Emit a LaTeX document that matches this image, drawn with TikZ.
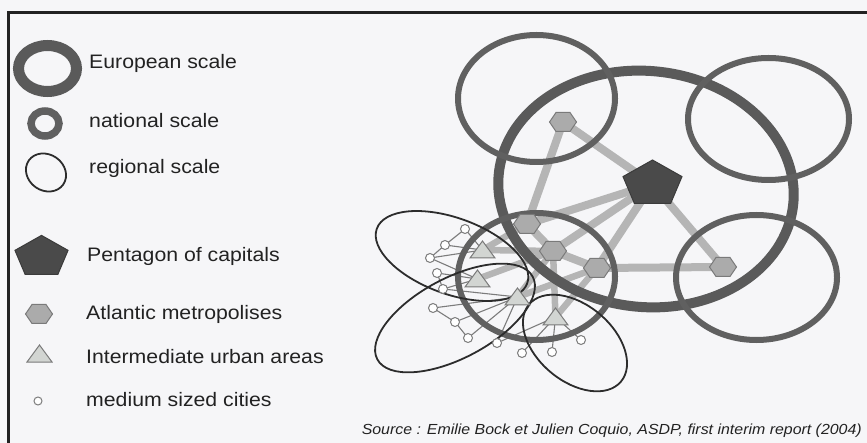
\documentclass[tikz,border=0pt]{standalone}
\usepackage{fontspec}
\setmainfont{Liberation Sans}[FakeStretch=1.09]
\pgfdeclarelayer{paperlayer}
\pgfdeclarelayer{links}
\pgfdeclarelayer{rings}
\pgfsetlayers{paperlayer,links,rings,main}

\definecolor{paper}{HTML}{F6F6F8}
\definecolor{inkc}{HTML}{222222}
\definecolor{ringeu}{HTML}{5A5A5A}
\definecolor{ringnat}{HTML}{606060}
\definecolor{ringreg}{HTML}{2C2C2C}
\definecolor{bandc}{HTML}{B5B5B5}
\definecolor{hexfill}{HTML}{ABABAB}
\definecolor{hexline}{HTML}{7A7A7A}
\definecolor{pentfill}{HTML}{4A4A4A}
\definecolor{trifill}{HTML}{D2D5D2}
\definecolor{spokec}{HTML}{7C7C7C}

\tikzset{
  europe/.style={draw=ringeu, line width=10pt},
  nation/.style={draw=ringnat, line width=6pt},
  region/.style={draw=ringreg, line width=1.8pt},
  bandlink/.style={draw=bandc, line width=8pt},
  thinband/.style={draw=bandc, line width=6.5pt},
  spoke/.style={draw=spokec, line width=1.1pt},
  city/.style={circle, draw=spokec, fill=white, line width=1pt,
    minimum size=9pt, inner sep=0pt, outer sep=0pt},
  legendtext/.style={anchor=base west, inner sep=0pt, text=inkc,
    font=\fontsize{19.5}{22}\selectfont},
  hexagon/.pic={\path[draw=hexline, fill=hexfill, line width=1pt]
    (-13.5,0) -- (-7,-9.5) -- (7,-9.5) -- (13.5,0) -- (7,9.5) -- (-7,9.5) -- cycle;},
  pentagon/.pic={\path[draw=pentfill!80!black, fill=pentfill, line width=1pt]
    (0,-24) -- (29.5,-7.4) -- (18.2,19.3) -- (-18.2,19.3) -- (-29.5,-7.4) -- cycle;},
  triangle/.pic={\path[draw=hexline, fill=trifill, line width=1pt]
    (0,-9) -- (12.5,8) -- (-12.5,8) -- cycle;},
}

\begin{document}
\begin{tikzpicture}[x=1pt,y=-1pt]
\useasboundingbox (0,0) rectangle (867,443);
\begin{pgfonlayer}{paperlayer}
  \fill[paper] (0,0) rectangle (867,443);
\end{pgfonlayer}

% frame
\draw[inkc, line width=2.2pt] (8.5,443) -- (8.5,12.5) -- (867,12.5);

% ---------- legend ----------
\draw[europe, line width=11pt] (47.5,68.5) ellipse (29 and 23);
\draw[nation, line width=7.5pt] (45,123.5) ellipse (14 and 12.5);
\draw[region, rotate around={-35:(46,172.5)}] (46,172.5) ellipse (21 and 18);
\path (41.5,257) pic[scale=0.9] {pentagon};
\path (39,314) pic {hexagon};
\path (39.5,354) pic {triangle};
\node[city, minimum size=8pt] (legcity) at (38,401) {};

\node[legendtext] (lg1) at (89,69) {European scale};
\node[legendtext] (lg2) at (89,128) {national scale};
\node[legendtext] (lg3) at (89,174) {regional scale};
\node[legendtext] (lg4) at (87,262) {Pentagon of capitals};
\node[legendtext] (lg5) at (86,320) {Atlantic metropolises};
\node[legendtext] (lg6) at (86,363) {Intermediate urban areas};
\node[legendtext] (lg7) at (86,406) {medium sized cities};

\node[anchor=base east, inner sep=0pt, text=inkc,
  font=\fontsize{14.6}{16}\selectfont\itshape] (src) at (862,434)
  {Source : Emilie Bock et Julien Coquio, ASDP, first interim report (2004)};

% ---------- network hubs ----------
\coordinate (P)  at (652.5,184);
\coordinate (Ht) at (563,122);
\coordinate (H1) at (527,224);
\coordinate (H2) at (553,251);
\coordinate (H3) at (597,268);
\coordinate (H4) at (723,267);
\coordinate (T1) at (482.5,250);
\coordinate (T2) at (477.5,279);
\coordinate (T3) at (517.5,297);
\coordinate (T4) at (555.5,317);

% medium sized cities
\node[city] (c1)  at (465,229) {};
\node[city] (c2)  at (445,245) {};
\node[city] (c3)  at (430,258) {};
\node[city] (c4)  at (437,273) {};
\node[city] (c5)  at (443,289) {};
\node[city] (c6)  at (433,308) {};
\node[city] (c7)  at (455,322) {};
\node[city] (c8)  at (468,338) {};
\node[city] (c9)  at (497,343) {};
\node[city] (c10) at (522,353) {};
\node[city] (c11) at (552,352) {};
\node[city] (c12) at (581,340) {};

% ---------- links ----------
\begin{pgfonlayer}{links}
  \foreach \a/\b in {Ht/P, Ht/H1, P/H1, P/H2, P/H3, P/H4, H1/H2, H2/H3, H3/H4}
    \draw[bandlink] (\a) -- (\b);
  \foreach \a/\b in {T1/H1, T1/H2, T2/H2, T3/H2, T3/H3, T4/H2, T4/H3}
    \draw[thinband] (\a) -- (\b);
  \foreach \a/\b in {T1/c1, T1/c2, T1/c3, T2/c3, T2/c4, T2/c5,
                     T3/c5, T3/c6, T3/c7, T3/c8, T3/c9,
                     T4/c9, T4/c10, T4/c11, T4/c12}
    \draw[spoke] (\a) -- (\b);
  \foreach \a/\b in {c1/c2, c2/c3, c4/c5, c6/c7, c7/c8}
    \draw[spoke] (\a) -- (\b);
\end{pgfonlayer}

% ---------- scales ----------
\begin{pgfonlayer}{rings}
  % European scale
  \draw[europe, rotate around={-6:(646,189)}] (646,189) ellipse (148 and 118);
  % national scale
  \draw[nation] (536.5,98.5) ellipse (78.5 and 63.5);
  \draw[nation] (768.5,119) ellipse (80.5 and 61);
  \draw[nation] (756.5,277.5) ellipse (80.5 and 62.5);
  \draw[nation] (536.5,276.5) ellipse (78.5 and 63.5);
  % regional scale
  \draw[region, rotate around={-20:(452,256)}] (452,256) ellipse (80 and 38);
  \draw[region, rotate around={28:(455,318)}] (455,318) ellipse (88 and 40);
  \draw[region, rotate around={-40:(575,343)}] (575,343) ellipse (60 and 38);
\end{pgfonlayer}

% ---------- hub symbols ----------
\foreach \h in {Ht,H1,H2,H3,H4} \path (\h) pic {hexagon};
\path (P) pic {pentagon};
\foreach \t in {T1,T2,T3,T4} \path (\t) pic {triangle};
\end{tikzpicture}
\end{document}
